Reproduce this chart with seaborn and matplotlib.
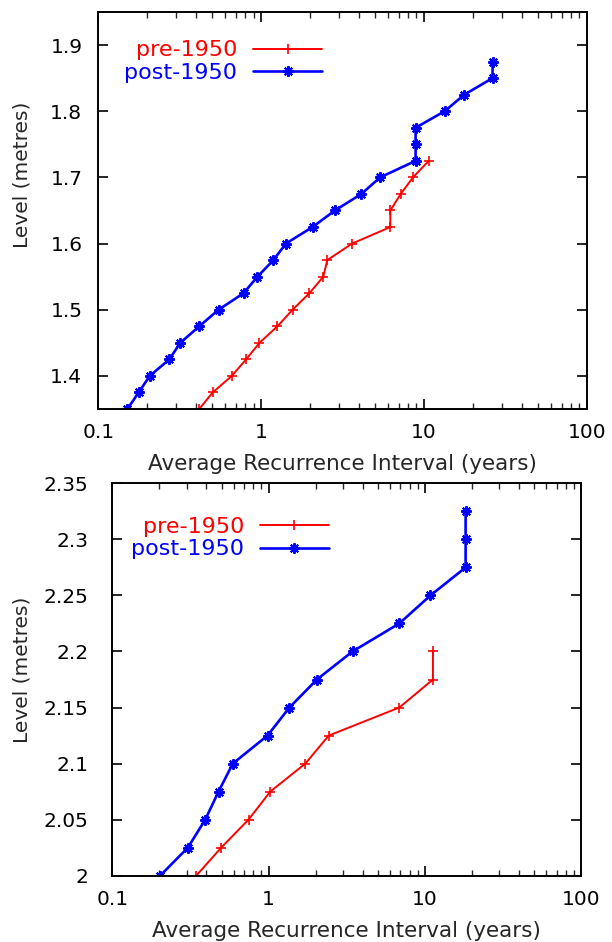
import numpy as np
import pandas as pd
import matplotlib
matplotlib.use("Agg")
import matplotlib.pyplot as plt
from matplotlib.ticker import FixedLocator, FuncFormatter, LogLocator, NullFormatter
import seaborn as sns

# ---------------- data ----------------
# Top panel
top_pre_level = [1.35, 1.375, 1.40, 1.425, 1.45, 1.475, 1.50, 1.525, 1.55, 1.575,
                 1.60, 1.625, 1.65, 1.675, 1.70, 1.725]
top_pre_ari = [0.417, 0.504, 0.661, 0.809, 0.977, 1.26, 1.56, 1.98, 2.41, 2.55,
               3.62, 6.22, 6.22, 7.20, 8.57, 10.7]
top_post_level = [1.35, 1.375, 1.40, 1.425, 1.45, 1.475, 1.50, 1.525, 1.55, 1.575,
                  1.60, 1.625, 1.65, 1.675, 1.70, 1.725, 1.75, 1.775, 1.80, 1.825,
                  1.85, 1.875]
top_post_ari = [0.151, 0.177, 0.207, 0.273, 0.319, 0.417, 0.548, 0.780, 0.950, 1.19,
                1.42, 2.07, 2.84, 4.13, 5.38, 8.89, 8.89, 8.89, 13.4, 17.7,
                26.4, 26.4]

# Bottom panel
bot_pre_level = [2.0, 2.025, 2.05, 2.075, 2.10, 2.125, 2.15, 2.175, 2.20]
bot_pre_ari = [0.344, 0.497, 0.744, 1.025, 1.72, 2.43, 6.88, 11.3, 11.3]
bot_post_level = [2.0, 2.025, 2.05, 2.075, 2.10, 2.125, 2.15, 2.175, 2.20, 2.225,
                  2.25, 2.275, 2.30, 2.325]
bot_post_ari = [0.202, 0.304, 0.393, 0.478, 0.590, 0.985, 1.36, 2.04, 3.45, 6.88,
                10.9, 18.3, 18.3, 18.3]

series_labels = ["pre-1950", "post-1950"]
x_ticks = [0.1, 1, 10, 100]
top_y_ticks = [1.4, 1.5, 1.6, 1.7, 1.8, 1.9]
bot_y_ticks = [2.0, 2.05, 2.1, 2.15, 2.2, 2.25, 2.3, 2.35]
x_label = "Average Recurrence Interval (years)"
y_label = "Level (metres)"

# ---------------- style ----------------
sns.set_theme(style="ticks")
plt.rcParams["font.family"] = ["DejaVu Sans"]
plt.rcParams["axes.linewidth"] = 1.4

RED = "#ff0000"
BLUE = "#0000ff"
FS_TICK = 14.5
FS_XLAB = 15.5
FS_LEG = 16

fig = plt.figure(figsize=(6.12, 9.42), dpi=100)
ax_top = fig.add_axes([0.1606, 0.5658, 0.9587 - 0.1606, 0.9873 - 0.5658])
ax_bot = fig.add_axes([0.1838, 0.0704, 0.9489 - 0.1838, 0.4869 - 0.0704])

fmt = FuncFormatter(lambda v, p: "%g" % v)


def draw(ax, pre_x, pre_y, post_x, post_y, ylim, yticks, leg_anchor, ypad, ylab_xy):
    df_pre = pd.DataFrame({"ari": pre_x, "level": pre_y})
    df_post = pd.DataFrame({"ari": post_x, "level": post_y})
    sns.lineplot(data=df_pre, x="ari", y="level", ax=ax, sort=False, estimator=None,
                 color=RED, lw=1.4, marker="+", markersize=7, mew=1.2,
                 mec=RED, label=series_labels[0])
    sns.lineplot(data=df_post, x="ari", y="level", ax=ax, sort=False, estimator=None,
                 color=BLUE, lw=1.9, marker=(8, 2, 0), markersize=7.5, mew=1.5,
                 mec=BLUE, label=series_labels[1])
    ax.set_xscale("log")
    ax.set_xlim(0.1, 100)
    ax.set_ylim(*ylim)
    ax.xaxis.set_major_locator(FixedLocator(x_ticks))
    ax.xaxis.set_major_formatter(fmt)
    ax.xaxis.set_minor_locator(LogLocator(base=10, subs=np.arange(2, 10)))
    ax.xaxis.set_minor_formatter(NullFormatter())
    ax.yaxis.set_major_locator(FixedLocator(yticks))
    ax.yaxis.set_major_formatter(fmt)
    ax.tick_params(axis="both", which="major", direction="in", length=7, width=1.2,
                   top=True, right=True, labelsize=FS_TICK, colors="black")
    ax.tick_params(axis="both", which="minor", direction="in", length=4, width=1.0,
                   top=True, right=True)
    ax.tick_params(axis="x", which="major", pad=10)
    ax.tick_params(axis="y", which="major", pad=ypad)
    for s in ax.spines.values():
        s.set_color("black")
        s.set_visible(True)
    ax.set_xlabel(x_label, fontsize=FS_XLAB, labelpad=9)
    ax.set_ylabel(y_label, fontsize=FS_TICK)
    ax.yaxis.set_label_coords(*ylab_xy)
    leg = ax.legend(loc="center right", bbox_to_anchor=leg_anchor, frameon=False,
                    markerfirst=False, fontsize=FS_LEG, handlelength=3.1,
                    handletextpad=0.72, labelspacing=0.1, borderpad=0,
                    borderaxespad=0)
    for t, c in zip(leg.get_texts(), [RED, BLUE]):
        t.set_color(c)


draw(ax_top, top_pre_ari, top_pre_level, top_post_ari, top_post_level,
     (1.35, 1.95), top_y_ticks, (0.458, 0.875), 11.5, (-0.136, 0.589))
draw(ax_bot, bot_pre_ari, bot_pre_level, bot_post_ari, bot_post_level,
     (2.0, 2.35), bot_y_ticks, (0.462, 0.86), 17.5, (-0.172, 0.524))

fig.savefig("out.png", dpi=100)
